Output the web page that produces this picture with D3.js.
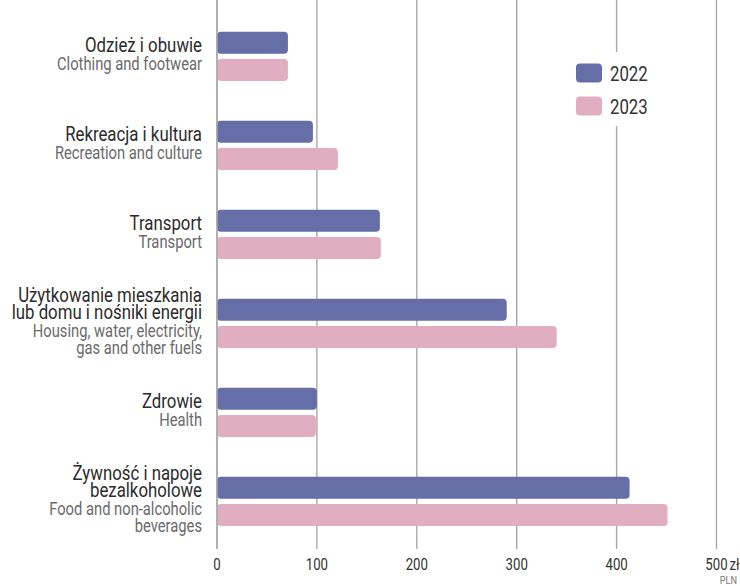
<!DOCTYPE html>
<html>
<head>
<meta charset="utf-8">
<script src="https://cdn.jsdelivr.net/npm/d3@7"></script>
<style>
  body { margin: 0; background: #fff; }
  svg { display: block; font-family: "Roboto", "Noto Sans", sans-serif; }
</style>
</head>
<body>
<svg id="chart" width="740" height="586"></svg>
<script>
const W = 740, H = 586;
const squeeze = 0.8; // condensed look of the original typeface

// data
const categoriesPl = [
  ["Odzież i obuwie"],
  ["Rekreacja i kultura"],
  ["Transport"],
  ["Użytkowanie mieszkania", "lub domu i nośniki energii"],
  ["Zdrowie"],
  ["Żywność i napoje", "bezalkoholowe"]
];
const categoriesEn = [
  ["Clothing and footwear"],
  ["Recreation and culture"],
  ["Transport"],
  ["Housing, water, electricity,", "gas and other fuels"],
  ["Health"],
  ["Food and non-alcoholic", "beverages"]
];
const years = ["2022", "2023"];
const values2022 = [71, 96, 163, 290, 100, 413];
const values2023 = [71, 121, 164, 340, 99, 451];
const xTicks = [0, 100, 200, 300, 400, 500];
const colors = ["#666ea7", "#e0aec0"];

const svg = d3.select("#chart");

const x = d3.scaleLinear().domain([0, 500]).range([217, 716.5]);

const y = d3.scaleBand()
  .domain(d3.range(categoriesPl.length))
  .range([31.7, 526])
  .paddingInner(0.446)
  .paddingOuter(0);

const ySub = d3.scaleBand()
  .domain(years)
  .range([0, y.bandwidth()])
  .paddingInner(0.194);

const color = d3.scaleOrdinal().domain(years).range(colors);

// narrow text placed at (tx, ty)
function label(parent, tx, ty, txt, size, fill, anchor, k) {
  return parent.append("text")
    .attr("transform", `translate(${tx},${ty}) scale(${k || squeeze},1)`)
    .attr("text-anchor", anchor || "start")
    .attr("font-size", size)
    .attr("fill", fill)
    .text(txt);
}

// gridlines
const grid = svg.append("g").attr("class", "grid");
grid.selectAll("line")
  .data(xTicks)
  .enter()
  .append("line")
  .attr("x1", d => x(d)).attr("x2", d => x(d))
  .attr("y1", 0).attr("y2", 549)
  .attr("stroke", "#a9a9a9")
  .attr("stroke-width", 1.4);

// bars
const rows = categoriesPl.map((c, i) => ({ i, vals: [values2022[i], values2023[i]] }));
const groups = svg.append("g").selectAll("g")
  .data(rows)
  .enter()
  .append("g")
  .attr("transform", d => `translate(0,${y(d.i)})`);

groups.selectAll("rect")
  .data(d => d.vals.map((v, k) => ({ year: years[k], v })))
  .enter()
  .append("rect")
  .attr("x", x(0))
  .attr("y", d => ySub(d.year))
  .attr("width", d => x(d.v) - x(0))
  .attr("height", ySub.bandwidth())
  .attr("rx", 4)
  .attr("fill", d => color(d.year));

// zero line back on top of bars
svg.append("line")
  .attr("x1", x(0)).attr("x2", x(0))
  .attr("y1", 0).attr("y2", 549)
  .attr("stroke", "#a9a9a9")
  .attr("stroke-width", 1.4);

// category labels
const lineH = 16.5, gapH = 18.5;
const labels = svg.append("g");
rows.forEach(d => {
  const pl = categoriesPl[d.i], en = categoriesEn[d.i];
  const lines = [];
  let yy = 0;
  pl.forEach((t, k) => { if (k > 0) yy += lineH; lines.push({ t, y: yy, pl: true }); });
  en.forEach((t, k) => { yy += (k === 0 ? gapH : lineH); lines.push({ t, y: yy, pl: false }); });
  const shift = y(d.i) + y.bandwidth() / 2 + 4.5 - yy / 2;
  lines.forEach(l => {
    label(labels, 202, l.y + shift, l.t, l.pl ? 20.5 : 18, l.pl ? "#2b2b2b" : "#6a6a6a", "end", 0.82);
  });
});

// x axis labels
const axis = svg.append("g");
xTicks.forEach(t => label(axis, x(t), 570, t, 16.5, "#333", "middle"));
label(axis, x(500) + 13, 570, "zł", 16.5, "#333", "start");
label(axis, 737, 584, "PLN", 11.5, "#777", "end");

// legend
const legend = svg.append("g");
legend.append("rect")
  .attr("x", 565).attr("y", 52)
  .attr("width", 100).attr("height", 74)
  .attr("fill", "#fff");

years.forEach((yr, i) => {
  const ly = 63.5 + i * 33;
  legend.append("rect")
    .attr("x", 576).attr("y", ly)
    .attr("width", 26).attr("height", 19)
    .attr("rx", 4)
    .attr("fill", color(yr));
  label(legend, 610, ly + 17, yr, 21, "#333", "start");
});
</script>
</body>
</html>
